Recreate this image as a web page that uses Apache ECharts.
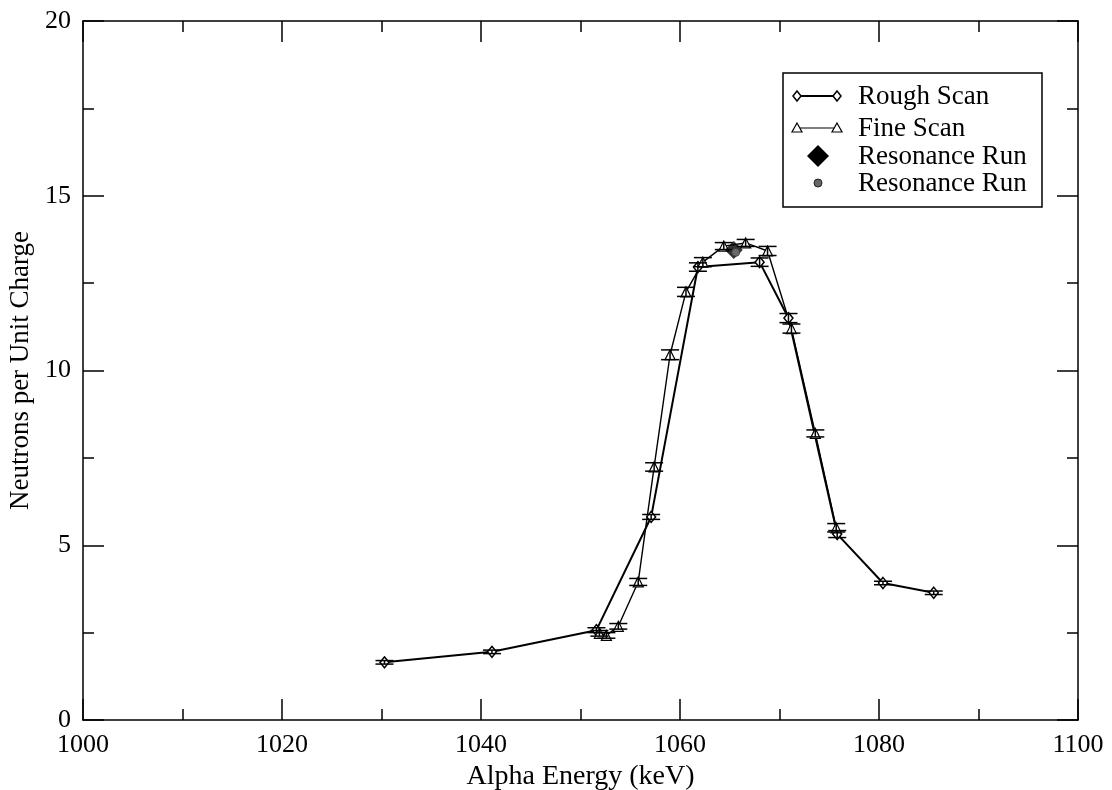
<!DOCTYPE html>
<html>
<head>
<meta charset="utf-8">
<script src="https://cdn.jsdelivr.net/npm/echarts@6/dist/echarts.min.js"></script>
<style>
  html, body { margin: 0; padding: 0; background: #fff; }
  #chart { width: 1112px; height: 790px; }
</style>
</head>
<body>
<div id="chart"></div>
<script>
// values
const roughE = [1030.3, 1041.1, 1051.6, 1057.1, 1061.8, 1068.0, 1070.9, 1075.8, 1080.4, 1085.5]
const roughN = [1.65, 1.95, 2.57, 5.81, 12.96, 13.1, 11.5, 5.32, 3.92, 3.64]
const roughErr = [0.05, 0.05, 0.07, 0.07, 0.12, 0.12, 0.13, 0.1, 0.05, 0.05]

const fineE = [1051.9, 1052.6, 1053.8, 1055.8, 1057.4, 1059.0, 1060.6, 1062.3, 1064.4, 1066.6, 1068.8, 1071.2, 1073.6, 1075.7]
const fineN = [2.48, 2.42, 2.68, 3.95, 7.24, 10.45, 12.25, 13.1, 13.56, 13.65, 13.42, 11.2, 8.2, 5.5]
const fineErr = [0.08, 0.08, 0.08, 0.1, 0.12, 0.14, 0.13, 0.13, 0.1, 0.1, 0.13, 0.13, 0.1, 0.12]

const resDiamondE = [1065.4]
const resDiamondN = [13.45]
const resCircleE = [1065.6]
const resCircleN = [13.38]

const legendNames = ["Rough Scan", "Fine Scan", "Resonance Run", "Resonance Run"]

const font = "Liberation Serif"

const pairs = (xs, ys) => xs.map((x, i) => [x, ys[i]])
const triples = (xs, ys, es) => xs.map((x, i) => [x, ys[i], es[i]])

const chart = echarts.init(document.getElementById("chart"))

// vertical error bar with wide caps
function errorBar(params, api) {
  const x = api.value(0)
  const y = api.value(1)
  const e = api.value(2)
  const top = api.coord([x, y + e])
  const bot = api.coord([x, y - e])
  const hw = 9
  const style = { stroke: "#000", lineWidth: 1.5 }
  return {
    type: "group",
    children: [
      { type: "line", shape: { x1: top[0], y1: top[1], x2: bot[0], y2: bot[1] }, style },
      { type: "line", shape: { x1: top[0] - hw, y1: top[1], x2: top[0] + hw, y2: top[1] }, style },
      { type: "line", shape: { x1: bot[0] - hw, y1: bot[1], x2: bot[0] + hw, y2: bot[1] }, style }
    ]
  }
}

const axisCommon = {
  type: "value",
  axisLine: { show: true, onZero: false, lineStyle: { color: "#000", width: 1.5 } },
  axisTick: { show: true, inside: true, length: 21, lineStyle: { color: "#000", width: 1.5 } },
  minorTick: { show: true, splitNumber: 2, length: 11, lineStyle: { color: "#000", width: 1.5 } },
  splitLine: { show: false }
}

// legend drawn by hand (two entries share a name)
const lx = 797, lx2 = 837
const rows = [96, 128, 156, 183]
const legendGraphics = [
  { type: "rect", shape: { x: 783, y: 73, width: 259, height: 134 }, style: { fill: "#fff", stroke: "#000", lineWidth: 1.5 }, z: 100 },
  { type: "line", shape: { x1: lx, y1: rows[0], x2: lx2, y2: rows[0] }, style: { stroke: "#000", lineWidth: 1.8 }, z: 101 },
  { type: "line", shape: { x1: lx, y1: rows[1], x2: lx2, y2: rows[1] }, style: { stroke: "#000", lineWidth: 1.2 }, z: 101 }
]
;[lx, lx2].forEach((cx) => {
  legendGraphics.push({ type: "polygon", shape: { points: [[cx, rows[0] - 5], [cx + 4, rows[0]], [cx, rows[0] + 5], [cx - 4, rows[0]]] }, style: { fill: "#fff", stroke: "#000", lineWidth: 1.5 }, z: 102 })
  legendGraphics.push({ type: "polygon", shape: { points: [[cx, rows[1] - 5], [cx + 5, rows[1] + 4], [cx - 5, rows[1] + 4]] }, style: { fill: "#fff", stroke: "#000", lineWidth: 1.2 }, z: 102 })
})
legendGraphics.push({ type: "polygon", shape: { points: [[818, rows[2] - 11], [829, rows[2]], [818, rows[2] + 11], [807, rows[2]]] }, style: { fill: "#000" }, z: 102 })
legendGraphics.push({ type: "circle", shape: { cx: 818, cy: rows[3], r: 4 }, style: { fill: "#666", stroke: "#222", lineWidth: 1 }, z: 102 })
legendNames.forEach((t, i) => {
  legendGraphics.push({ type: "text", x: 858, y: rows[i] + 1, style: { text: t, font: "27px " + font, fill: "#000", verticalAlign: "middle" }, z: 102 })
})

const options = {
  animation: false,
  backgroundColor: "#fff",
  grid: { left: 83, right: 34, top: 21, bottom: 70, outerBoundsMode: "none", containLabel: false },
  xAxis: [
    {
      ...axisCommon,
      position: "bottom",
      min: 1000,
      max: 1100,
      interval: 20,
      name: "Alpha Energy (keV)",
      nameLocation: "middle",
      nameGap: 42,
      nameTextStyle: { fontFamily: font, fontSize: 28, color: "#000" },
      axisLabel: {
        fontFamily: font, fontSize: 26, color: "#000", margin: 12,
        formatter: (v) => String(v)
      }
    },
    {
      ...axisCommon,
      position: "top",
      min: 1000,
      max: 1100,
      interval: 20,
      axisLabel: { show: false }
    }
  ],
  yAxis: [
    {
      ...axisCommon,
      position: "left",
      min: 0,
      max: 20,
      interval: 5,
      name: "Neutrons per Unit Charge",
      nameLocation: "middle",
      nameGap: 44,
      nameTextStyle: { fontFamily: font, fontSize: 27, color: "#000" },
      axisLabel: { fontFamily: font, fontSize: 26, color: "#000", margin: 12 }
    },
    {
      ...axisCommon,
      position: "right",
      min: 0,
      max: 20,
      interval: 5,
      axisLabel: { show: false }
    }
  ],
  graphic: legendGraphics,
  series: [
    {
      name: "Rough Scan",
      type: "line",
      data: pairs(roughE, roughN),
      symbol: "diamond",
      symbolSize: [9, 11],
      lineStyle: { color: "#000", width: 2 },
      itemStyle: { color: "#fff", borderColor: "#000", borderWidth: 1.5 },
      z: 3
    },
    {
      name: "Fine Scan",
      type: "line",
      data: pairs(fineE, fineN),
      symbol: "triangle",
      symbolSize: 10,
      lineStyle: { color: "#000", width: 1.4 },
      itemStyle: { color: "#fff", borderColor: "#000", borderWidth: 1.2 },
      z: 3
    },
    {
      name: "Rough Scan errors",
      type: "custom",
      renderItem: errorBar,
      data: triples(roughE, roughN, roughErr),
      z: 4
    },
    {
      name: "Fine Scan errors",
      type: "custom",
      renderItem: errorBar,
      data: triples(fineE, fineN, fineErr),
      z: 4
    },
    {
      name: "Resonance Run",
      type: "scatter",
      data: pairs(resDiamondE, resDiamondN),
      symbol: "diamond",
      symbolSize: 18,
      itemStyle: { color: "#000" },
      z: 5
    },
    {
      name: "Resonance Run 2",
      type: "scatter",
      data: pairs(resCircleE, resCircleN),
      symbol: "circle",
      symbolSize: 8,
      itemStyle: { color: "#777", borderColor: "#333", borderWidth: 1 },
      z: 6
    }
  ]
}

chart.setOption(options)
</script>
</body>
</html>
